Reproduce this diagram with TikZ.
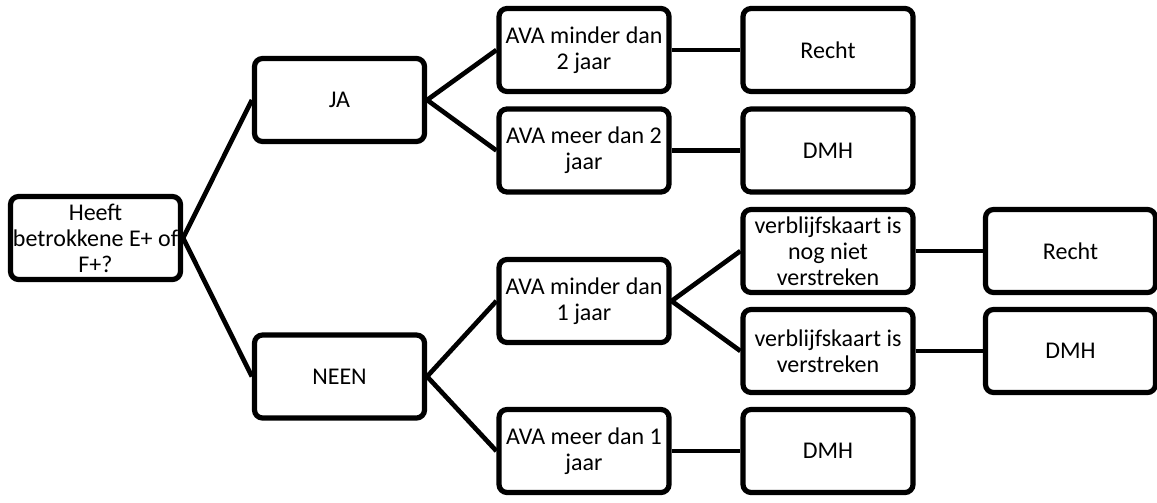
\documentclass[tikz,border=0pt]{standalone}
\usepackage{fontspec}
\setmainfont{Carlito}
\begin{document}
\begin{tikzpicture}[x=0.75pt,y=-0.75pt,
  box/.style={draw=black, line width=3.9pt, rounded corners=6pt, fill=white,
    minimum width=127.5pt, minimum height=62.25pt, inner sep=0pt, align=center,
    font=\fontsize{18}{19.6}\selectfont},
  conn/.style={draw=black, line width=3.5pt}]
\useasboundingbox (0,0) rectangle (1157,503);
\node[box] (root) at (95.5,238) {Heeft\\betrokkene E+ of\\F+?};
\node[box] (ja) at (339.5,100) {JA};
\node[box] (neen) at (339.5,376.5) {NEEN};
\node[box] (a2m) at (584,50) {AVA minder dan\\2 jaar};
\node[box] (a2p) at (584,150.5) {AVA meer dan 2\\jaar};
\node[box] (a1m) at (584,301) {AVA minder dan\\1 jaar};
\node[box] (a1p) at (584,451) {AVA meer dan 1\\jaar};
\node[box] (r1) at (828,50) {Recht};
\node[box] (d1) at (828,150.5) {DMH};
\node[box] (vnn) at (828,251) {verblijfskaart is\\nog niet\\verstreken};
\node[box] (vv) at (828,351) {verblijfskaart is\\verstreken};
\node[box] (d3) at (828,451) {DMH};
\node[box] (r2) at (1070.5,251) {Recht};
\node[box] (d2) at (1070.5,351) {DMH};
\draw[conn] (root.east) -- (ja.west);
\draw[conn] (root.east) -- (neen.west);
\draw[conn] (ja.east) -- (a2m.west);
\draw[conn] (ja.east) -- (a2p.west);
\draw[conn] (neen.east) -- (a1m.west);
\draw[conn] (neen.east) -- (a1p.west);
\draw[conn] (a2m.east) -- (r1.west);
\draw[conn] (a2p.east) -- (d1.west);
\draw[conn] (a1m.east) -- (vnn.west);
\draw[conn] (a1m.east) -- (vv.west);
\draw[conn] (a1p.east) -- (d3.west);
\draw[conn] (vnn.east) -- (r2.west);
\draw[conn] (vv.east) -- (d2.west);
\end{tikzpicture}
\end{document}
